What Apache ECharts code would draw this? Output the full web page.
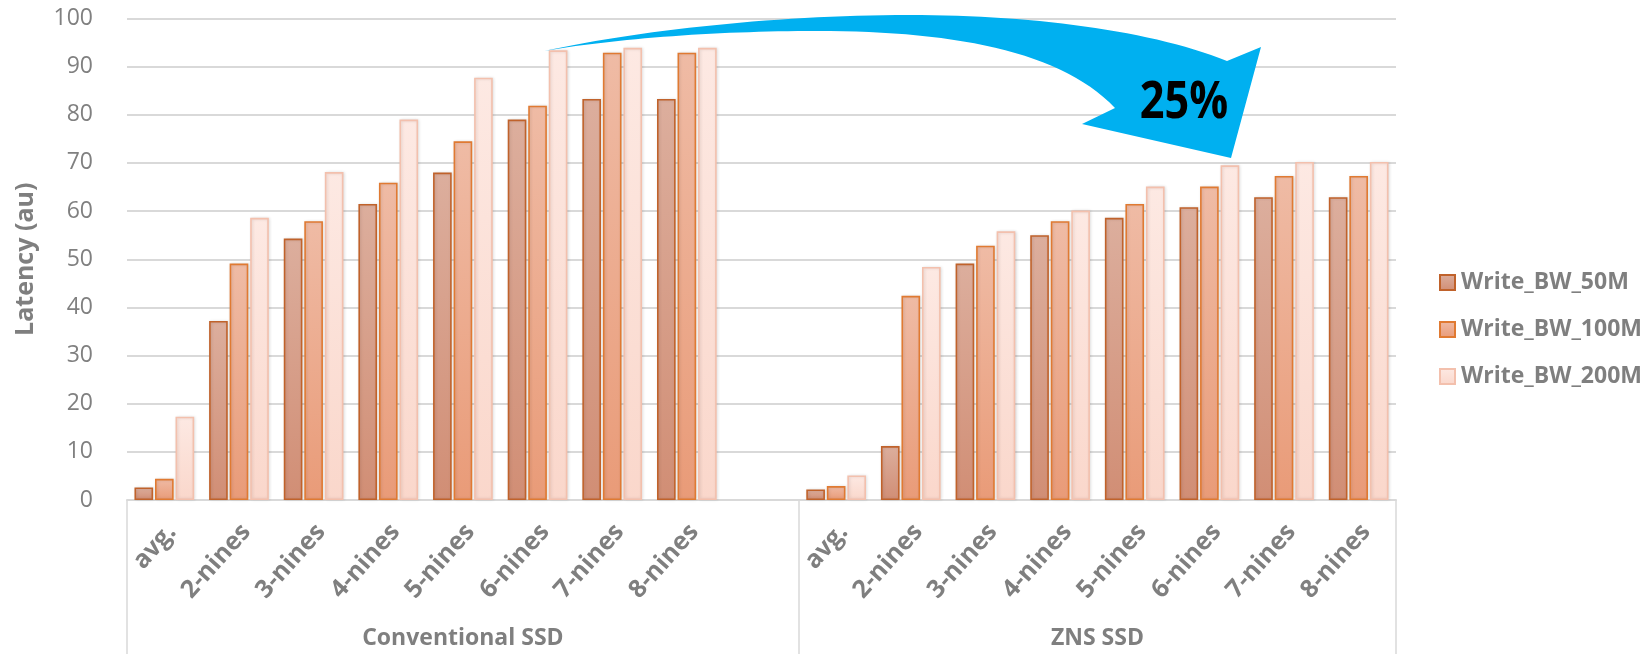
<!DOCTYPE html>
<html>
<head>
<meta charset="utf-8">
<script src="https://cdn.jsdelivr.net/npm/echarts@6/dist/echarts.min.js"></script>
<style>html,body{margin:0;padding:0;background:#fff;}#c{width:1651px;height:654px;}</style>
</head>
<body>
<div id="c"></div>
<script>
// ---- data ----
const tiers = ['avg.', '2-nines', '3-nines', '4-nines', '5-nines', '6-nines', '7-nines', '8-nines'];
const groups = ['Conventional SSD', 'ZNS SSD'];
const seriesNames = ['Write_BW_50M', 'Write_BW_100M', 'Write_BW_200M'];
const conv50  = [2.6, 37.2, 54.3, 61.5, 68.0, 79.0, 83.3, 83.3];
const conv100 = [4.4, 49.1, 57.9, 65.9, 74.5, 81.9, 92.9, 92.9];
const conv200 = [17.3, 58.6, 68.1, 79.0, 87.7, 93.4, 93.9, 93.9];
const zns50   = [2.2, 11.2, 49.1, 55.0, 58.6, 60.8, 62.9, 62.9];
const zns100  = [2.9, 42.4, 52.8, 57.9, 61.5, 65.1, 67.3, 67.3];
const zns200  = [5.1, 48.4, 55.8, 60.1, 65.1, 69.5, 70.2, 70.2];
const yTicks = [0, 10, 20, 30, 40, 50, 60, 70, 80, 90, 100];
const annotation = '25%';

// ---- build combined category axis (blank slot between groups) ----
const categories = tiers.concat([''], tiers);
function join(a, b) { return a.concat([null], b); }
const values = [join(conv50, zns50), join(conv100, zns100), join(conv200, zns200)];
const n = categories.length;
const groupStart = [0, tiers.length + 1];
const groupEnd = [tiers.length + 1, n];
const groupMid = [ (groupStart[0] + groupEnd[0]) / 2, (groupStart[1] + groupEnd[1]) / 2 ];

const styles = [
  { top: '#dcae9d', bottom: '#d18e75', border: '#c0622b' },
  { top: '#efbba5', bottom: '#e99b78', border: '#e07a32' },
  { top: '#fde9e3', bottom: '#fad7cb', border: '#f3c0ad' }
];

const chart = echarts.init(document.getElementById('c'), null, { renderer: 'canvas' });
const gray = '#7f7f7f';
const font = "'Open Sans', 'Noto Sans', sans-serif";

function grad(top, bottom) {
  return { type: 'linear', x: 0, y: 0, x2: 0, y2: 1, colorStops: [
    { offset: 0, color: top }, { offset: 1, color: bottom } ] };
}

// annotation arrow outline (cubic segments sampled into a polygon)
function cubic(p0, p1, p2, p3, steps) {
  const pts = [];
  for (let k = 1; k <= steps; k++) {
    const t = k / steps, u = 1 - t;
    pts.push([
      u*u*u*p0[0] + 3*u*u*t*p1[0] + 3*u*t*t*p2[0] + t*t*t*p3[0],
      u*u*u*p0[1] + 3*u*u*t*p1[1] + 3*u*t*t*p2[1] + t*t*t*p3[1]
    ]);
  }
  return pts;
}
const arrowPts = [[544, 51]]
  .concat(cubic([544, 51], [640, 30], [780, 15], [909, 15], 30))
  .concat(cubic([909, 15], [1030, 15], [1150, 30], [1227, 61], 30))
  .concat([[1261, 47], [1231, 158], [1082, 124], [1115, 108]])
  .concat(cubic([1115, 108], [1060, 50], [950, 31], [817, 31], 30))
  .concat(cubic([817, 31], [720, 31], [620, 38], [544, 51], 30));

const series = seriesNames.map((name, i) => ({
  name: name,
  type: 'bar',
  xAxisIndex: 0,
  data: values[i],
  barCategoryGap: '20%',
  barGap: '10%',
  itemStyle: {
    color: grad(styles[i].top, styles[i].bottom),
    borderColor: styles[i].border,
    borderWidth: 1.6,
    shadowColor: 'rgba(0,0,0,0.12)',
    shadowBlur: 3,
    shadowOffsetX: 1
  }
}));

chart.setOption({
  animation: false,
  backgroundColor: '#fff',
  grid: { left: 127, right: 255, top: 18.5, bottom: 154, containLabel: false },
  legend: {
    orient: 'vertical',
    left: 1439,
    top: 271,
    padding: 0,
    itemWidth: 15,
    itemHeight: 15,
    itemGap: 24,
    icon: 'rect',
    data: seriesNames,
    textStyle: { color: gray, fontFamily: font, fontWeight: 'bold', fontSize: 23, lineHeight: 23, padding: [0, 0, 0, 1] }
  },
  xAxis: [
    {
      type: 'category',
      data: categories,
      position: 'bottom',
      axisLine: { show: true, lineStyle: { color: '#d9d9d9', width: 2 } },
      axisTick: { show: false },
      axisLabel: {
        interval: 0,
        rotate: 48,
        margin: 36,
        color: gray,
        fontFamily: font,
        fontWeight: 'bold',
        fontSize: 25,
        padding: [0, -11, 0, 0]
      },
      splitLine: { show: false }
    },
    {
      type: 'value',
      min: 0,
      max: n,
      position: 'bottom',
      axisLine: { show: false },
      splitLine: { show: false },
      axisTick: {
        show: true,
        customValues: [groupStart[0], groupStart[1], groupEnd[1]],
        length: 170,
        inside: false,
        lineStyle: { color: '#d9d9d9', width: 1.5 }
      },
      axisLabel: {
        customValues: groupMid,
        margin: 127,
        color: gray,
        fontFamily: font,
        fontWeight: 'bold',
        fontSize: 23,
        formatter: function (v) {
          if (Math.abs(v - groupMid[0]) < 1e-6) return groups[0];
          if (Math.abs(v - groupMid[1]) < 1e-6) return groups[1];
          return '';
        }
      }
    }
  ],
  yAxis: {
    type: 'value',
    min: yTicks[0],
    max: yTicks[yTicks.length - 1],
    interval: yTicks[1] - yTicks[0],
    name: 'Latency (au)',
    nameLocation: 'middle',
    nameRotate: 90,
    nameGap: 89,
    nameTextStyle: { color: gray, fontFamily: font, fontWeight: 'bold', fontSize: 25 },
    axisLine: { show: false },
    axisTick: { show: false },
    axisLabel: { color: '#808080', fontFamily: font, fontSize: 23, margin: 34 },
    splitLine: { show: true, lineStyle: { color: '#d9d9d9', width: 2 } }
  },
  series: series,
  graphic: [
    {
      type: 'polygon',
      z: 100,
      shape: { points: arrowPts },
      style: { fill: '#00b0f0' }
    },
    {
      type: 'text',
      z: 101,
      x: 1184,
      y: 103,
      scaleX: 0.92,
      scaleY: 1.1,
      style: {
        text: annotation,
        fill: '#000',
        font: "bold 47px 'Open Sans', sans-serif",
        align: 'center',
        verticalAlign: 'middle'
      }
    }
  ]
});
</script>
</body>
</html>
